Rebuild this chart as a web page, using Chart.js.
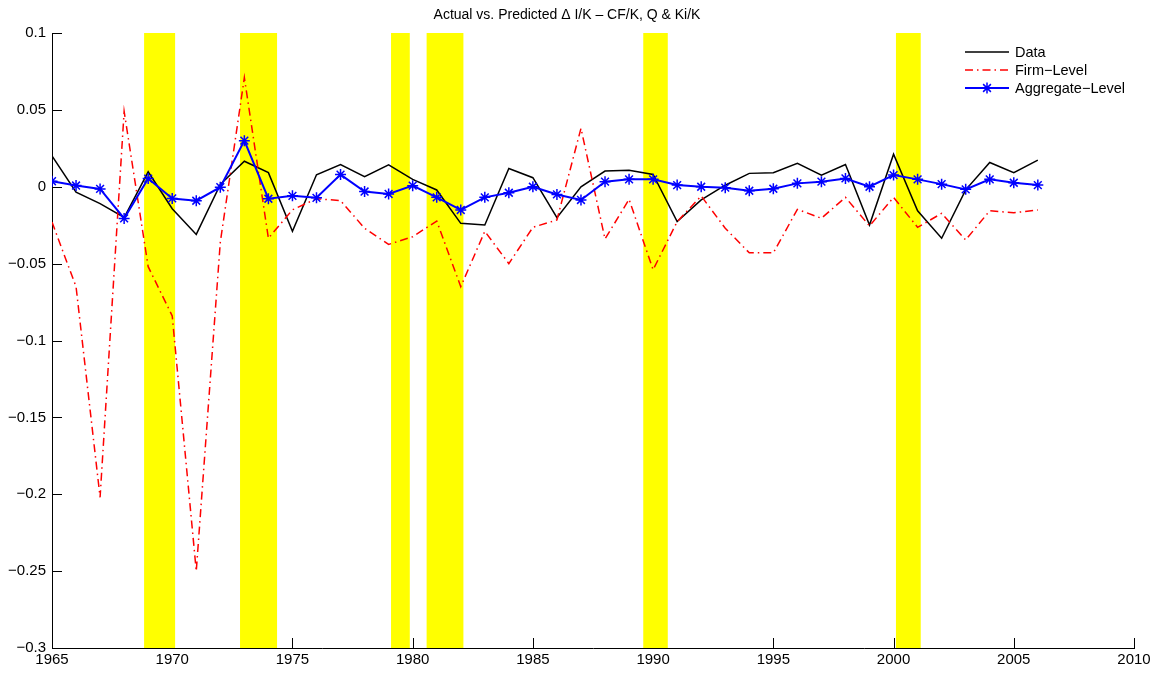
<!DOCTYPE html>
<html>
<head>
<meta charset="utf-8">
<title>Actual vs. Predicted</title>
<script src="https://cdn.jsdelivr.net/npm/chart.js@4.4.1/dist/chart.umd.min.js"></script>
<style>
  html, body { margin: 0; padding: 0; background: #fff; }
  #wrap { width: 1165px; height: 673px; position: relative; }
</style>
</head>
<body>
<div id="wrap"><canvas id="chart"></canvas></div>
<script>
// Years on the x axis
const years = [1965, 1966, 1967, 1968, 1969, 1970, 1971, 1972, 1973, 1974,
               1975, 1976, 1977, 1978, 1979, 1980, 1981, 1982, 1983, 1984,
               1985, 1986, 1987, 1988, 1989, 1990, 1991, 1992, 1993, 1994,
               1995, 1996, 1997, 1998, 1999, 2000, 2001, 2002, 2003, 2004,
               2005, 2006];

// Actual data (black)
const actualData = [0.020, -0.0035, -0.011, -0.020, 0.0097, -0.0143, -0.031, 0.0015, 0.0166, 0.0092,
                    -0.029, 0.0078, 0.0144, 0.0066, 0.0143, 0.0048, -0.0021, -0.0238, -0.0249, 0.0119,
                    0.0059, -0.0201, 0.0000, 0.0102, 0.0108, 0.0080, -0.0227, -0.0086, 0.0010, 0.0087,
                    0.0091, 0.0152, 0.0076, 0.0145, -0.0249, 0.0212, -0.0156, -0.0335, -0.0020, 0.0158,
                    0.0091, 0.0173];

// Firm-level prediction (red dash-dot)
const firmLevel = [-0.023, -0.065, -0.202, 0.049, -0.052, -0.084, -0.250, -0.036, 0.071, -0.0335,
                   -0.015, -0.0078, -0.009, -0.027, -0.0375, -0.0325, -0.0223, -0.065, -0.029, -0.050,
                   -0.0264, -0.0216, 0.038, -0.034, -0.0082, -0.054, -0.0227, -0.006, -0.027, -0.043,
                   -0.043, -0.0147, -0.0205, -0.0069, -0.0255, -0.0069, -0.0264, -0.0173, -0.0346, -0.0156,
                   -0.0169, -0.0151];

// Aggregate-level prediction (blue with stars)
const aggregateLevel = [0.0036, 0.0008, -0.0014, -0.0206, 0.0053, -0.0076, -0.0091, -0.0003, 0.030, -0.0078,
                        -0.0059, -0.0072, 0.0079, -0.0031, -0.0047, 0.0007, -0.0069, -0.0151, -0.0069, -0.0039,
                        0.0000, -0.0050, -0.0086, 0.0033, 0.0048, 0.0048, 0.0011, 0.0000, -0.0006, -0.0026,
                        -0.0013, 0.0022, 0.0033, 0.0054, 0.0000, 0.0076, 0.0048, 0.0017, -0.0017, 0.0048,
                        0.0026, 0.0011];

// Shaded recession periods (start / end, in years)
const recessionStart = [1968.83, 1972.82, 1979.10, 1980.58, 1989.59, 2000.10];
const recessionEnd   = [1970.12, 1974.36, 1979.88, 1982.11, 1990.61, 2001.13];

const FONT = '"Liberation Sans", Arial, Helvetica, sans-serif';

function toPoints(values) {
    return years.map((yr, i) => ({ x: yr, y: values[i] }));
}

// Recession shading, drawn under the lines
const recessionBands = {
    id: 'recessionBands',
    beforeDatasetsDraw(chart) {
        const { ctx, chartArea: a, scales: { x } } = chart;
        ctx.save();
        ctx.fillStyle = '#ffff00';
        recessionStart.forEach((s, i) => {
            const x0 = x.getPixelForValue(s);
            const x1 = x.getPixelForValue(recessionEnd[i]);
            ctx.fillRect(x0, a.top, x1 - x0, a.bottom - a.top);
        });
        ctx.restore();
    }
};

// MATLAB style ticks pointing into the plot
const inwardTicks = {
    id: 'inwardTicks',
    beforeDatasetsDraw(chart) {
        const { ctx, chartArea: a, scales: { x, y } } = chart;
        ctx.save();
        ctx.strokeStyle = '#000';
        ctx.lineWidth = 1;
        ctx.beginPath();
        y.ticks.forEach(t => {
            const py = Math.round(y.getPixelForValue(t.value)) + 0.5;
            ctx.moveTo(a.left, py);
            ctx.lineTo(a.left + 10, py);
        });
        x.ticks.forEach(t => {
            const px = Math.round(x.getPixelForValue(t.value)) + 0.5;
            ctx.moveTo(px, a.bottom);
            ctx.lineTo(px, a.bottom - 10);
        });
        ctx.stroke();
        ctx.restore();
    }
};

// Legend without box, top right
const matlabLegend = {
    id: 'matlabLegend',
    afterDraw(chart) {
        const ctx = chart.ctx;
        ctx.save();
        ctx.font = '14.5px ' + FONT;
        ctx.textBaseline = 'middle';
        chart.data.datasets.forEach((ds, i) => {
            const yy = 52 + i * 18;
            ctx.strokeStyle = ds.borderColor;
            ctx.lineWidth = ds.borderWidth;
            ctx.setLineDash(ds.borderDash || []);
            ctx.beginPath();
            ctx.moveTo(965, yy);
            ctx.lineTo(1009, yy);
            ctx.stroke();
            ctx.setLineDash([]);
            if (ds.pointRadius > 0) {
                ctx.fillStyle = ds.pointBackgroundColor;
                ctx.strokeStyle = ds.pointBorderColor;
                ctx.lineWidth = ds.pointBorderWidth;
                Chart.helpers.drawPoint(ctx, {
                    pointStyle: ds.pointStyle,
                    radius: ds.pointRadius,
                    rotation: 0,
                    borderWidth: ds.pointBorderWidth
                }, 987, yy);
            }
            ctx.fillStyle = '#000';
            ctx.fillText(ds.label, 1015, yy + 1);
        });
        ctx.restore();
    }
};

new Chart(document.getElementById('chart'), {
    type: 'line',
    data: {
        datasets: [
            {
                label: 'Data',
                data: toPoints(actualData),
                borderColor: '#000000',
                borderWidth: 1.5,
                pointRadius: 0,
                tension: 0,
                order: 3
            },
            {
                label: 'Firm\u2212Level',
                data: toPoints(firmLevel),
                borderColor: '#ff0000',
                borderWidth: 1.5,
                borderDash: [8, 4, 1.5, 4],
                pointRadius: 0,
                tension: 0,
                order: 2
            },
            {
                label: 'Aggregate\u2212Level',
                data: toPoints(aggregateLevel),
                borderColor: '#0000ff',
                borderWidth: 2,
                pointStyle: 'star',
                pointRadius: 5.5,
                pointBorderWidth: 1.5,
                pointBorderColor: '#0000ff',
                pointBackgroundColor: '#0000ff',
                tension: 0,
                order: 1
            }
        ]
    },
    options: {
        responsive: true,
        maintainAspectRatio: false,
        animation: false,
        devicePixelRatio: 1,
        layout: {
            padding: { left: 0, right: 31, top: 0, bottom: 0 }
        },
        plugins: {
            legend: { display: false },
            tooltip: { enabled: false },
            title: {
                display: true,
                text: 'Actual vs. Predicted \u0394 I/K \u2013 CF/K, Q & Ki/K',
                color: '#000',
                font: { family: FONT, size: 14, weight: 'normal', lineHeight: 1.2 },
                padding: { top: 7, bottom: 9.2 }
            }
        },
        scales: {
            x: {
                type: 'linear',
                min: 1965,
                max: 2010,
                ticks: {
                    stepSize: 5,
                    color: '#000',
                    padding: 3,
                    maxRotation: 0,
                    font: { family: FONT, size: 15 },
                    callback: v => String(v)
                },
                grid: { drawOnChartArea: false, drawTicks: false },
                border: { display: true, color: '#000', width: 1 },
                afterFit: s => { s.height = 25; }
            },
            y: {
                min: -0.3,
                max: 0.1,
                ticks: {
                    stepSize: 0.05,
                    color: '#000',
                    padding: 6,
                    font: { family: FONT, size: 15 },
                    callback: v => {
                        const r = Math.round(v * 100) / 100;
                        return r === 0 ? '0' : String(r).replace('-', '\u2212');
                    }
                },
                grid: { drawOnChartArea: false, drawTicks: false },
                border: { display: true, color: '#000', width: 1 },
                afterFit: s => { s.width = 52; }
            }
        }
    },
    plugins: [inwardTicks, recessionBands, matlabLegend]
});
</script>
</body>
</html>
